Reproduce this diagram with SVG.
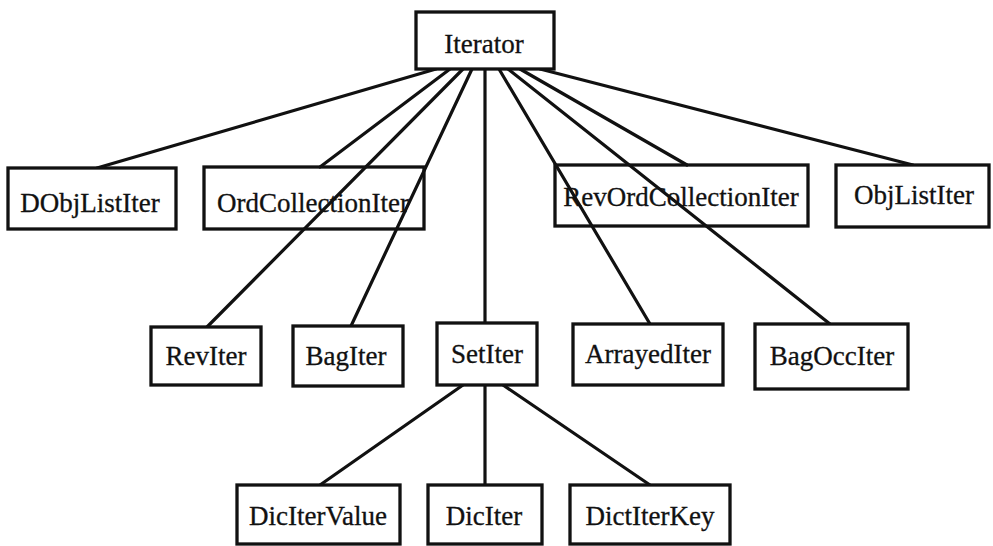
<svg xmlns="http://www.w3.org/2000/svg" width="993" height="546" viewBox="0 0 993 546">
  <style>
    .box { fill: #ffffff; stroke: #111111; stroke-width: 3.3; }
    .label { font-family: "Liberation Serif", "Times New Roman", serif; font-size: 27px; fill: #111111; stroke: #111111; stroke-width: 0.3; text-anchor: middle; }
    .edge { stroke: #111111; stroke-width: 3.2; fill: none; stroke-linecap: round; }
  </style>
  <rect width="993" height="546" fill="#ffffff"/>

  <!-- inheritance links -->
  <g id="connectors">
    <line class="edge" x1="436" y1="69" x2="97" y2="168"/>
    <line class="edge" x1="450" y1="69" x2="320" y2="167"/>
    <line class="edge" x1="463" y1="69" x2="207" y2="327"/>
    <line class="edge" x1="472" y1="69" x2="351" y2="326"/>
    <line class="edge" x1="485" y1="69" x2="485" y2="323"/>
    <line class="edge" x1="499" y1="69" x2="650" y2="324"/>
    <line class="edge" x1="508" y1="69" x2="830" y2="324"/>
    <line class="edge" x1="520" y1="69" x2="687" y2="165"/>
    <line class="edge" x1="540" y1="69" x2="913" y2="165"/>
    <line class="edge" x1="463" y1="385" x2="320" y2="485"/>
    <line class="edge" x1="485" y1="385" x2="485" y2="485"/>
    <line class="edge" x1="503" y1="385" x2="650" y2="485"/>
  </g>

  <!-- Iterator is drawn over the links so they start at its lower edge -->
  <g id="iterator">
    <rect class="box" x="416" y="12" width="138" height="57"/>
    <text class="label" x="484" y="53">Iterator</text>
  </g>

  <!-- first level, boxes left unfilled where links pass through them -->
  <g id="dobjlistiter">
    <rect class="box" x="8" y="168" width="168" height="61"/>
    <text class="label" x="90" y="212">DObjListIter</text>
  </g>
  <g id="ordcollectioniter">
    <rect class="box" x="204" y="167" width="220" height="62" style="fill:none"/>
    <text class="label" x="313" y="212">OrdCollectionIter</text>
  </g>
  <g id="revordcollectioniter">
    <rect class="box" x="555" y="165" width="253" height="61" style="fill:none"/>
    <text class="label" x="681" y="206">RevOrdCollectionIter</text>
  </g>
  <g id="objlistiter">
    <rect class="box" x="836" y="165" width="153" height="62"/>
    <text class="label" x="914" y="204">ObjListIter</text>
  </g>

  <!-- second level -->
  <g id="reviter">
    <rect class="box" x="151" y="327" width="110" height="58"/>
    <text class="label" x="206" y="365">RevIter</text>
  </g>
  <g id="bagiter">
    <rect class="box" x="293" y="326" width="110" height="60"/>
    <text class="label" x="346" y="365">BagIter</text>
  </g>
  <g id="setiter">
    <rect class="box" x="437" y="323" width="100" height="62"/>
    <text class="label" x="487" y="363">SetIter</text>
  </g>
  <g id="arrayediter">
    <rect class="box" x="573" y="324" width="150" height="61"/>
    <text class="label" x="648" y="363">ArrayedIter</text>
  </g>
  <g id="bagocciter">
    <rect class="box" x="755" y="324" width="153" height="65"/>
    <text class="label" x="832" y="365">BagOccIter</text>
  </g>

  <!-- third level -->
  <g id="diciterval">
    <rect class="box" x="237" y="485" width="163" height="59"/>
    <text class="label" x="318" y="525">DicIterValue</text>
  </g>
  <g id="diciter">
    <rect class="box" x="428" y="485" width="114" height="59"/>
    <text class="label" x="484" y="525">DicIter</text>
  </g>
  <g id="dictiterkey">
    <rect class="box" x="570" y="485" width="160" height="59"/>
    <text class="label" x="650" y="525">DictIterKey</text>
  </g>
</svg>
